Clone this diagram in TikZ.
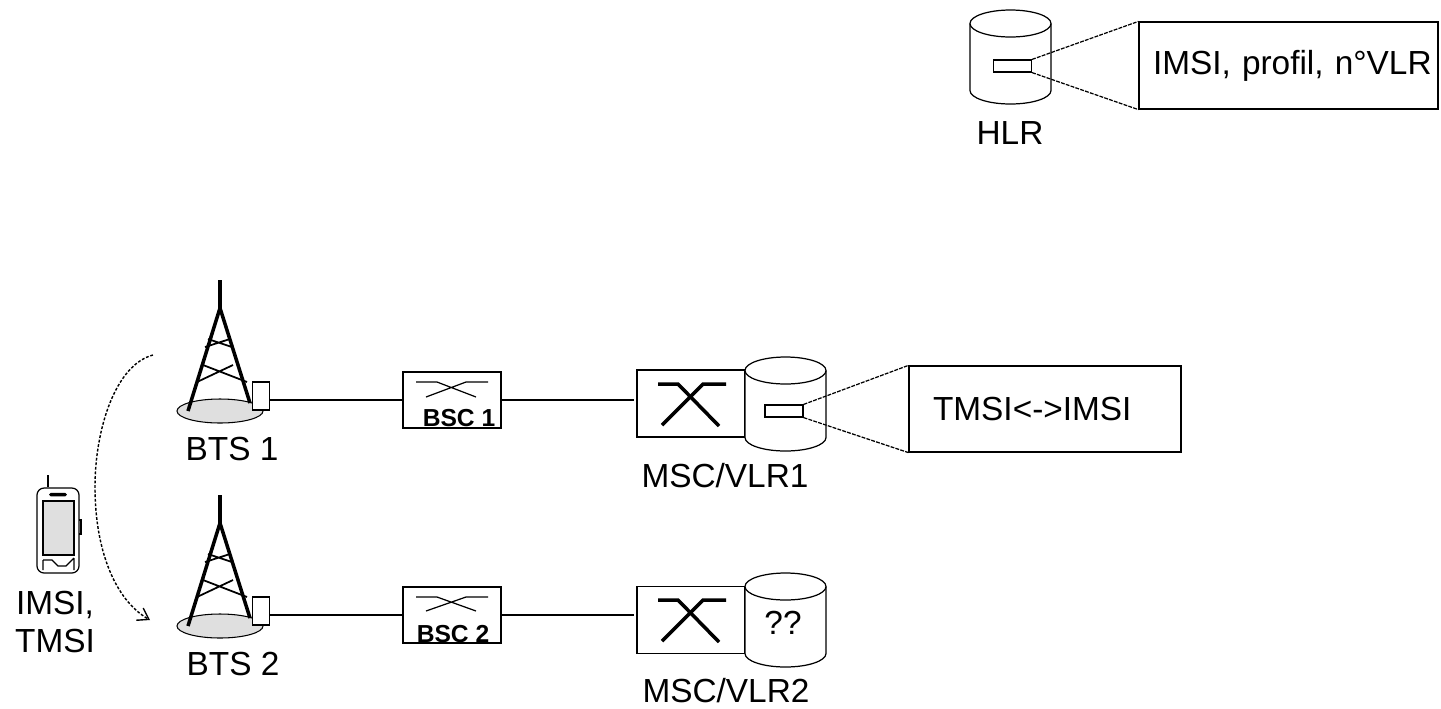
\documentclass[tikz,border=0pt]{standalone}
\usepackage{fontspec}
\setmainfont{Liberation Sans}
\usetikzlibrary{shapes.geometric, arrows.meta, positioning}

\begin{document}
\begin{tikzpicture}[
    x=0.02cm, y=-0.02cm,
    txt/.style={inner sep=0pt, font=\fontsize{19}{22}\selectfont},
    bsctxt/.style={inner sep=0pt, font=\fontsize{14}{16}\selectfont\bfseries},
    bscbox/.style={rectangle, draw, line width=0.7pt, minimum width=1.96cm, minimum height=1.12cm},
    mscbox/.style={rectangle, draw, line width=0.7pt, minimum width=2.16cm, minimum height=1.34cm},
    slot/.style={rectangle, draw, line width=0.7pt, fill=white, minimum width=0.76cm, minimum height=0.24cm, inner sep=0pt},
    callout/.style={rectangle, draw, line width=0.7pt, align=left, txt},
    link/.style={line width=0.7pt},
    zoomline/.style={line width=0.7pt, dash pattern=on 2.2pt off 0.7pt},
    handover/.style={line width=0.8pt, dash pattern=on 1.6pt off 1pt, -{Straight Barb[length=6pt,width=8pt]}},
    pics/drum/.style={code={
        \draw[line width=0.7pt, fill=white] (-40.5,-33.5) -- (-40.5,33.5) arc [start angle=180, end angle=0, x radius=40.5, y radius=13.5] -- (40.5,-33.5);
        \draw[line width=0.7pt, fill=white] (0,-33.5) ellipse [x radius=40.5, y radius=13.5];
    }},
    pics/tower/.style={code={
        \fill[gray!25] (0,0) ellipse [x radius=43, y radius=12];
        \draw[line width=0.6pt] (0,0) ellipse [x radius=43, y radius=12];
        \draw[line width=2pt] (0,-131) -- (0,-103) -- (-32,0);
        \draw[line width=2pt] (0,-103) -- (30,-8);
        \draw[line width=1pt] (-12,-72) -- (12,-64) (10,-72) -- (-15,-64);
        \draw[line width=1pt] (-17,-46) -- (27,-29) (13,-46) -- (-23,-29);
        \node (-box) [rectangle, draw, line width=0.7pt, fill=white, minimum width=0.34cm, minimum height=0.56cm, inner sep=0pt] at (41,-15) {};
    }},
    pics/xswitch/.style={code={
        \draw[line width=2pt] (-34,0) -- (-14,0) -- (27,42);
        \draw[line width=2pt] (34,0) -- (11,0) -- (-30,41);
    }}
]
    % mobile
    \node (phone) [rectangle, draw, line width=0.7pt, rounded corners=4pt, minimum width=0.84cm, minimum height=1.7cm] at (58,530.5) {};
    \node (screen) [rectangle, draw, line width=0.6pt, fill=gray!25, minimum width=0.62cm, minimum height=1.08cm] at (58.5,528) {};
    \node (speaker) [rectangle, fill=black, rounded corners=1pt, minimum width=0.36cm, minimum height=0.07cm, inner sep=0pt] at (58,494.5) {};
    \coordinate (aerial) at (48,475);
    \draw[link] (aerial) -- (aerial |- phone.north);
    \draw[link] (43,560) -- (52,560) -- (58,566) -- (66,566) -- (74,558) (43,570) -- (43,560) (74,570) -- (74,558);
    \draw[link] (79,520) -- (81,520) -- (81,534) -- (79,534);
    \node (ids) [txt, align=center] at (55,622) {IMSI,\\TMSI};

    % handover
    \coordinate (hstart) at (153,355);
    \coordinate (hmid) at (95,487);
    \coordinate (hend) at (150,620);
    \draw[handover] (hstart) .. controls (115,365) and (95,430) .. (hmid) .. controls (95,550) and (115,600) .. (hend);

    % base stations
    \pic (bts1) at (220,411) {tower};
    \pic (bts2) at (220,626) {tower};
    \node (lbts1) [txt] at (232,449) {BTS 1};
    \node (lbts2) [txt] at (233,664) {BTS 2};

    % controllers
    \node (bsc1) [bscbox] at (452,400) {};
    \node (bsc2) [bscbox] at (452,615) {};
    \draw[link] (416,382) -- (437,382) -- (476,397) (488,382) -- (466,382) -- (426,397);
    \draw[link] (416,597) -- (437,597) -- (476,611) (488,597) -- (466,597) -- (426,611);
    \node (lbsc1) [bsctxt] at (459,418) {BSC 1};
    \node (lbsc2) [bsctxt] at (453,634) {BSC 2};

    % switches
    \node (msc1) [mscbox] at (691,403.5) {};
    \node (msc2) [mscbox] at (691,620) {};
    \pic at (692,384) {xswitch};
    \pic at (692,600) {xswitch};
    \pic at (785.5,404) {drum};
    \pic at (785.5,620) {drum};
    \node (rec1) [slot] at (784,411) {};
    \node (qq) [txt] at (783,623) {??};
    \node (lmsc1) [txt] at (725,476) {MSC/VLR1};
    \node (lmsc2) [txt] at (726,691) {MSC/VLR2};

    % home register
    \pic at (1010.5,57) {drum};
    \node (rec0) [slot] at (1012.5,66) {};
    \node (lhlr) [txt] at (1010,133) {HLR};

    % records
    \node (tab1) [callout, inner xsep=0.48cm, text width=4.48cm, minimum height=1.72cm] at (1045,409) {TMSI<->IMSI};
    \node (tab0) [callout, inner xsep=0.28cm, text width=5.42cm, minimum height=1.74cm] at (1288.5,65.5) {\mbox{IMSI, profil, n°VLR}};

    \draw[link] (bts1-box.east |- bsc1.west) -- (bsc1.west);
    \draw[link] (bts2-box.east |- bsc2.west) -- (bsc2.west);
    \draw[link] (bsc1.east) -- ([xshift=-0.04cm]msc1.west |- bsc1.east);
    \draw[link] (bsc2.east) -- ([xshift=-0.04cm]msc2.west |- bsc2.east);
    \draw[zoomline] (rec1.north east) -- (tab1.north west);
    \draw[zoomline] (rec1.south east) -- (tab1.south west);
    \draw[zoomline] (rec0.north east) -- (tab0.north west);
    \draw[zoomline] (rec0.south east) -- (tab0.south west);

    \useasboundingbox (0,0) rectangle (1441,708);
\end{tikzpicture}
\end{document}
